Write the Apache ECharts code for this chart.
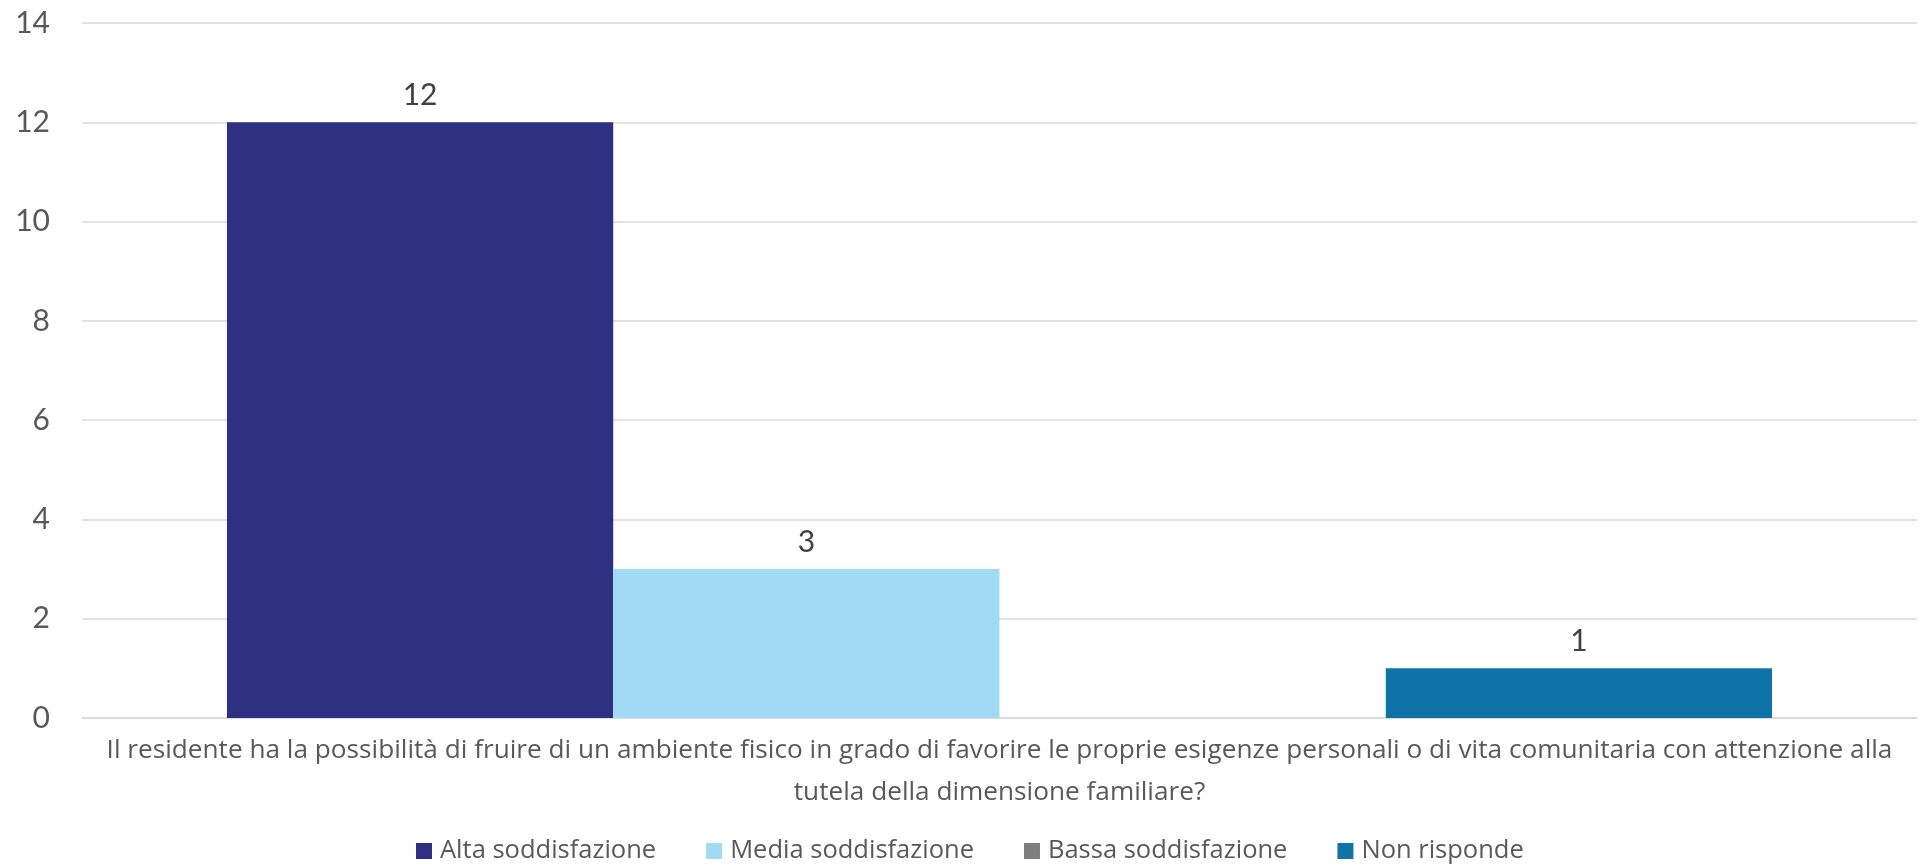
<!DOCTYPE html>
<html>
<head>
<meta charset="utf-8">
<script src="https://cdn.jsdelivr.net/npm/echarts@6/dist/echarts.min.js"></script>
<style>
html,body{margin:0;padding:0;background:#fff;}
#chart{width:1923px;height:866px;}
</style>
</head>
<body>
<div id="chart"></div>
<script>
const categories = ["Il residente ha la possibilità di fruire di un ambiente fisico in grado di favorire le proprie esigenze personali o di vita comunitaria con attenzione alla\ntutela della dimensione familiare?"];
const seriesNames = ["Alta soddisfazione", "Media soddisfazione", "Bassa soddisfazione", "Non risponde"];
const altaValues = [12];
const mediaValues = [3];
const bassaValues = [null];
const nonRispondeValues = [1];
const seriesColors = ["#2E3082", "#A2D9F5", "#7F7F7F", "#0F73A7"];
const yTicks = { min: 0, max: 14, interval: 2 };

const FONT = 'Lato, "Noto Sans", sans-serif';
const FONT2 = '"Open Sans", Lato, sans-serif';
const TEXT = '#595959';
const allValues = [altaValues, mediaValues, bassaValues, nonRispondeValues];

const chart = echarts.init(document.getElementById('chart'), null, {renderer: 'canvas'});
chart.setOption({
  animation: false,
  textStyle: { fontFamily: FONT },
  grid: { left: 82, right: 6, top: 23, bottom: 148, containLabel: false },
  legend: {
    data: seriesNames,
    left: 411,
    top: 833,
    itemWidth: 16,
    itemHeight: 16,
    itemGap: 50,
    icon: 'rect',
    textStyle: { color: TEXT, fontSize: 25.5, fontFamily: FONT2, padding: [0, 0, 0, 3] }
  },
  xAxis: {
    type: 'category',
    data: categories,
    axisLine: { show: true, lineStyle: { color: '#D9D9D9', width: 1.5 } },
    axisTick: { show: false },
    axisLabel: {
      color: TEXT, fontSize: 26.2, fontFamily: FONT2, lineHeight: 42, margin: 12,
      align: 'center'
    }
  },
  yAxis: {
    type: 'value',
    min: yTicks.min, max: yTicks.max, interval: yTicks.interval,
    axisLine: { show: false },
    axisTick: { show: false },
    splitLine: { lineStyle: { color: '#D9D9D9', width: 1.5 } },
    axisLabel: { color: TEXT, fontSize: 30, fontFamily: FONT, margin: 32 }
  },
  series: seriesNames.map((name, i) => ({
    name: name,
    type: 'bar',
    data: allValues[i],
    barGap: '0%',
    barCategoryGap: '15.8%',
    itemStyle: { color: seriesColors[i] },
    label: {
      show: true, position: 'top', distance: 12,
      color: '#404040', fontSize: 30, fontFamily: FONT
    }
  }))
});
</script>
</body>
</html>
